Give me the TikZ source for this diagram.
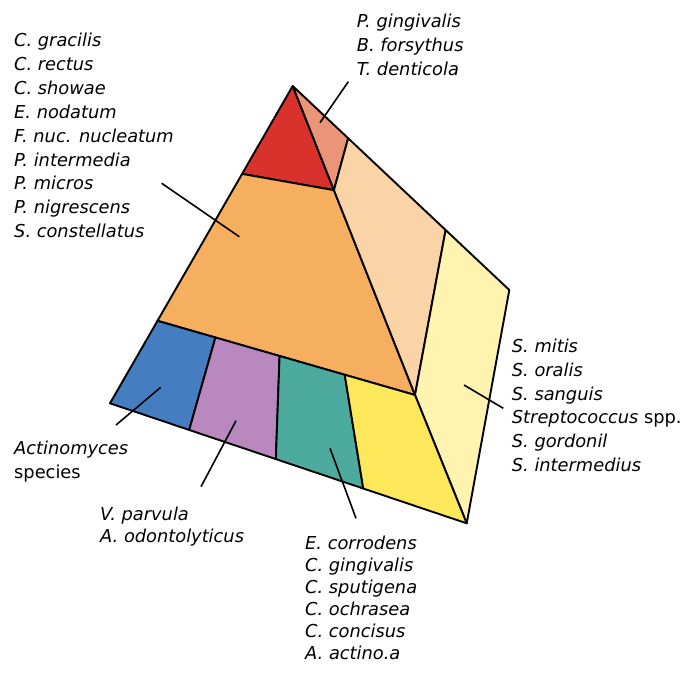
\documentclass[tikz,border=0pt]{standalone}
\usepackage{fontspec}
\setmainfont{DejaVu Sans}
\usetikzlibrary{calc}
\definecolor{rojo}{RGB}{217, 50, 45}
\definecolor{salmon}{RGB}{234, 148, 120}
\definecolor{naranja}{RGB}{245, 175, 95}
\definecolor{melocoton}{RGB}{250, 211, 166}
\definecolor{crema}{RGB}{255, 243, 176}
\definecolor{azul}{RGB}{68, 126, 193}
\definecolor{lila}{RGB}{184, 136, 190}
\definecolor{verde}{RGB}{76, 170, 158}
\definecolor{amarillo}{RGB}{253, 232, 92}

\begin{document}
\begin{tikzpicture}[
        x=1pt, y=-1pt,
        zona/.style={
            draw=black,
            line width=1.9pt,
            line join=round
        },
        guia/.style={draw=black, line width=1.6pt},
        especie/.style={
            anchor=base west,
            inner sep=0pt,
            font=\fontsize{17.8}{24}\selectfont\itshape
        }
    ]
        \useasboundingbox (0,0) rectangle (684,673);

        % vertices of the figure
        \coordinate (apice) at (292.7,86);
        \coordinate (extI) at (110,403.3);
        \coordinate (extD) at (509.3,290);
        \coordinate (extB) at (466.7,523.3);
        \coordinate (centro) at (415,395);
        \coordinate (rojoI) at ($(apice)!0.277!(extI)$);
        \coordinate (naranjaI) at ($(apice)!0.74!(extI)$);
        \coordinate (salmonD) at ($(apice)!0.256!(extD)$);
        \coordinate (melocD) at ($(apice)!0.706!(extD)$);
        \coordinate (rojoD) at ($(apice)!0.337!(centro)$);
        \coordinate (azulS) at ($(naranjaI)!0.225!(centro)$);
        \coordinate (lilaS) at ($(naranjaI)!0.474!(centro)$);
        \coordinate (verdeS) at ($(naranjaI)!0.727!(centro)$);
        \coordinate (azulB) at ($(extI)!0.222!(extB)$);
        \coordinate (lilaB) at ($(extI)!0.465!(extB)$);
        \coordinate (verdeB) at ($(extI)!0.71!(extB)$);

        \filldraw[zona, fill=rojo] (apice) -- (rojoD) -- (rojoI) -- cycle;
        \filldraw[zona, fill=salmon] (apice) -- (salmonD) -- (rojoD) -- cycle;
        \filldraw[zona, fill=naranja] (rojoI) -- (rojoD) -- (centro) -- (naranjaI) -- cycle;
        \filldraw[zona, fill=melocoton] (salmonD) -- (melocD) -- (centro) -- (rojoD) -- cycle;
        \filldraw[zona, fill=crema] (melocD) -- (extD) -- (extB) -- (centro) -- cycle;
        \filldraw[zona, fill=azul] (naranjaI) -- (azulS) -- (azulB) -- (extI) -- cycle;
        \filldraw[zona, fill=lila] (azulS) -- (lilaS) -- (lilaB) -- (azulB) -- cycle;
        \filldraw[zona, fill=verde] (lilaS) -- (verdeS) -- (verdeB) -- (lilaB) -- cycle;
        \filldraw[zona, fill=amarillo] (verdeS) -- (centro) -- (extB) -- (verdeB) -- cycle;

        % species lists
        \foreach \texto [count=\n] in {
            C. gracilis, C. rectus, C. showae, E. nodatum, F. nuc. nucleatum,
            P. intermedia, P. micros, P. nigrescens, S. constellatus
        } {
            \node[especie] (naranja-\n) at (14,{46.5+23.9*(\n-1)}) {\texto};
        }
        \foreach \texto [count=\n] in {
            P. gingivalis, B. forsythus, T. denticola
        } {
            \node[especie] (salmon-\n) at (356.7,{27.5+24*(\n-1)}) {\texto};
        }
        \foreach \texto [count=\n] in {
            S. mitis, S. oralis, S. sanguis, Streptococcus \textup{spp.},
            S. gordonil, S. intermedius
        } {
            \node[especie] (crema-\n) at (511.7,{352.7+23.7*(\n-1)}) {\texto};
        }
        \foreach \texto [count=\n] in {
            Actinomyces, \textup{species}
        } {
            \node[especie] (azul-\n) at (14,{454+24.3*(\n-1)}) {\texto};
        }
        \foreach \texto [count=\n] in {
            V. parvula, A. odontolyticus
        } {
            \node[especie] (lila-\n) at (100,{520+22.7*(\n-1)}) {\texto};
        }
        \foreach \texto [count=\n] in {
            E. corrodens, C. gingivalis, C. sputigena, C. ochrasea,
            C. concisus, A. actino.a
        } {
            \node[especie] (verde-\n) at (305,{549.3+22*(\n-1)}) {\texto};
        }

        % leader lines
        \coordinate (gNa1) at (161.7,183.3);
        \coordinate (gNa2) at (239.3,236.7);
        \coordinate (gSa1) at (348.3,81.7);
        \coordinate (gSa2) at (320,122.7);
        \coordinate (gCr1) at (464,385);
        \coordinate (gCr2) at (503.3,408.3);
        \coordinate (gAz1) at (160.7,387.3);
        \coordinate (gAz2) at (116,425);
        \coordinate (gLi1) at (236,420.7);
        \coordinate (gLi2) at (201,486.7);
        \coordinate (gVe1) at (330,448.3);
        \coordinate (gVe2) at (356,518.3);
        \draw[guia] (gNa1) -- (gNa2);
        \draw[guia] (gSa1) -- (gSa2);
        \draw[guia] (gCr1) -- (gCr2);
        \draw[guia] (gAz1) -- (gAz2);
        \draw[guia] (gLi1) -- (gLi2);
        \draw[guia] (gVe1) -- (gVe2);
    \end{tikzpicture}
\end{document}
